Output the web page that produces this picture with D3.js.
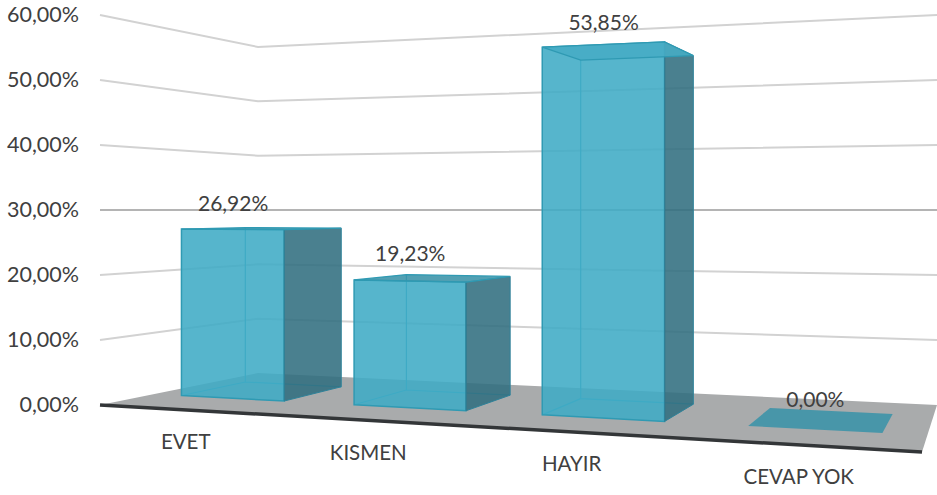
<!DOCTYPE html>
<html>
<head>
<meta charset="utf-8">
<script src="https://cdn.jsdelivr.net/npm/d3@7"></script>
<style>
  body { margin: 0; background: #fff; }
  text { font-family: Lato, "Open Sans", sans-serif; fill: #404040; }
</style>
</head>
<body>
<script>
let categories = ['EVET', 'KISMEN', 'HAYIR', 'CEVAP YOK'];
let values = [26.92, 19.23, 53.85, 0];
let tickValues = [0, 10, 20, 30, 40, 50, 60];

let width = 937;
let height = 495;

let svg = d3.select('body')
  .append('svg')
  .attr('width', width)
  .attr('height', height);

//Floor corners on screen: front left, front right, back right, back left
let floor = [[100, 405], [922, 452], [937, 405], [258, 373]];
let horizonY = 210;   //The 30% gridline stays flat, so the eye level sits on it
let horizonValue = 30;

//Solve the perspective map from the unit square onto the floor
function fitFloor(p) {
  let dx1 = p[1][0] - p[2][0], dy1 = p[1][1] - p[2][1];
  let dx2 = p[3][0] - p[2][0], dy2 = p[3][1] - p[2][1];
  let sx = p[0][0] - p[1][0] + p[2][0] - p[3][0];
  let sy = p[0][1] - p[1][1] + p[2][1] - p[3][1];
  let det = dx1 * dy2 - dx2 * dy1;
  let g = (sx * dy2 - dx2 * sy) / det;
  let h = (dx1 * sy - sx * dy1) / det;
  let a = p[1][0] - p[0][0] + g * p[1][0];
  let b = p[3][0] - p[0][0] + h * p[3][0];
  let d = p[1][1] - p[0][1] + g * p[1][1];
  let e = p[3][1] - p[0][1] + h * p[3][1];
  return function(s, t) {
    let w = g * s + h * t + 1;
    return [(a * s + b * t + p[0][0]) / w, (d * s + e * t + p[0][1]) / w];
  };
}
let floorMap = fitFloor(floor);

//s runs along the categories, t runs front to back, v is the height in percent
function project(s, t, v) {
  let base = floorMap(s, t);
  let rise = d3.scaleLinear().domain([0, horizonValue]).range([base[1], horizonY]);
  return [base[0], rise(v)];
}

let xBand = d3.scaleBand()
  .domain(categories)
  .range([0.042, 0.951])
  .paddingInner(0.395)
  .paddingOuter(0);

let tFront = 0.3;
let tBack = 0.72;

let format = d3.formatLocale({
  decimal: ',', thousands: '.', grouping: [3], currency: ['', ''], percent: '%'
}).format('.2f');

let poly = d3.line();

//Gridlines bend at the back corner of the floor
let grid = svg.append('g');
grid.selectAll('path')
  .data(tickValues.filter(function(d) { return d > 0; }))
  .enter()
  .append('path')
  .attr('d', function(d) {
    return poly([project(0, 0, d), project(0, 1, d), project(1, 1, d)]);
  })
  .attr('fill', 'none')
  .attr('stroke', function(d) { return d === horizonValue ? '#b4b4b4' : '#d2d2d2'; })
  .attr('stroke-width', 2);

svg.append('path')
  .attr('d', poly(floor) + 'Z')
  .attr('fill', '#a9abac');

svg.append('path')
  .attr('d', poly([floor[0], floor[1]]))
  .attr('stroke', '#333638')
  .attr('stroke-width', 3.5);

let bars = svg.selectAll('g.bar')
  .data(categories.map(function(c, i) { return { name: c, value: values[i] }; }))
  .enter()
  .append('g')
  .attr('class', 'bar');

function corners(d) {
  let s0 = xBand(d.name);
  let s1 = s0 + xBand.bandwidth();
  return {
    fl: function(v) { return project(s0, tFront, v); },
    fr: function(v) { return project(s1, tFront, v); },
    br: function(v) { return project(s1, tBack, v); },
    bl: function(v) { return project(s0, tBack, v); }
  };
}

let edge = '#2f9ab3';

//Hidden edges show through the glass
bars.filter(function(d) { return d.value > 0; })
  .append('path')
  .attr('d', function(d) {
    let c = corners(d);
    return poly([c.bl(d.value), c.bl(0), c.br(0)]) + poly([c.bl(0), c.fl(0)]);
  })
  .attr('fill', 'none')
  .attr('stroke', '#3aa5bf')
  .attr('stroke-width', 1.2);

//Front
bars.filter(function(d) { return d.value > 0; })
  .append('path')
  .attr('d', function(d) {
    let c = corners(d);
    return poly([c.fl(0), c.fr(0), c.fr(d.value), c.fl(d.value)]) + 'Z';
  })
  .attr('fill', '#3fabc5')
  .attr('fill-opacity', 0.88)
  .attr('stroke', edge)
  .attr('stroke-width', 1.5);

//Side
bars.filter(function(d) { return d.value > 0; })
  .append('path')
  .attr('d', function(d) {
    let c = corners(d);
    return poly([c.fr(0), c.br(0), c.br(d.value), c.fr(d.value)]) + 'Z';
  })
  .attr('fill', '#316e80')
  .attr('fill-opacity', 0.88)
  .attr('stroke', '#2f8299')
  .attr('stroke-width', 1);

//Top, seen from below on the tall bar so it reads lighter there
bars.append('path')
  .attr('d', function(d) {
    let c = corners(d);
    return poly([c.fl(d.value), c.fr(d.value), c.br(d.value), c.bl(d.value)]) + 'Z';
  })
  .attr('fill', function(d) { return d.value > horizonValue ? '#47acc5' : '#3a93a9'; })
  .attr('fill-opacity', 0.88)
  .attr('stroke', function(d) { return d.value > 0 ? edge : 'none'; })
  .attr('stroke-width', 1.2);

//Value labels float above the front of each bar, a bit closer on the tall one
let labelGap = d3.scaleLinear().domain([0, 60]).range([30, 21]);

bars.append('text')
  .attr('x', function(d) {
    return project(xBand(d.name) + xBand.bandwidth() / 2, tFront, 0)[0] + 1;
  })
  .attr('y', function(d) {
    let s = xBand(d.name) + xBand.bandwidth() / 2;
    return project(s, tFront, d.value)[1] - labelGap(d.value);
  })
  .attr('dy', '0.35em')
  .attr('text-anchor', 'middle')
  .style('font-size', '21px')
  .text(function(d) { return format(d.value) + '%'; });

//Category labels run below the front edge and drift toward the bars on the right
let labelDx = d3.scaleLinear().domain([0, 0.37, 0.62, 1]).range([-49, -41, -31, -8]);
let labelDy = d3.scaleLinear().domain([0, 1]).range([43, 48]);

bars.append('text')
  .attr('x', function(d) {
    let s = xBand(d.name) + xBand.bandwidth() / 2;
    return floorMap(s, 0.3)[0] + labelDx(s);
  })
  .attr('y', function(d) {
    let s = xBand(d.name) + xBand.bandwidth() / 2;
    return floorMap(s, 0.3)[1] + labelDy(s);
  })
  .attr('dy', '0.35em')
  .attr('text-anchor', 'middle')
  .style('font-size', '20.5px')
  .text(function(d) { return d.name; });

let yLeft = d3.scaleLinear()
  .domain([0, horizonValue])
  .range([floor[0][1], horizonY]);

let yAxis = svg.append('g')
  .attr('transform', 'translate(79,0)')
  .call(d3.axisLeft(yLeft)
    .tickValues(tickValues)
    .tickSize(0)
    .tickPadding(0)
    .tickFormat(function(d) { return format(d) + '%'; }));

yAxis.select('.domain').remove();
yAxis.selectAll('text')
  .style('font-size', '21.5px')
  .style('font-family', 'Lato, "Open Sans", sans-serif')
  .attr('fill', '#404040');
</script>
</body>
</html>
